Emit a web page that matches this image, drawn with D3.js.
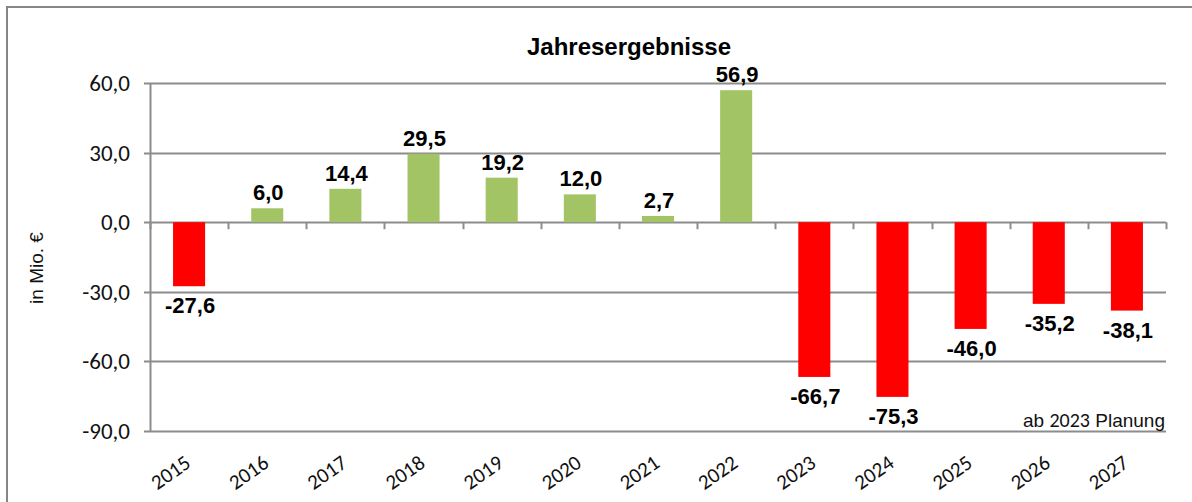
<!DOCTYPE html>
<html>
<head>
<meta charset="utf-8">
<script src="https://cdn.jsdelivr.net/npm/d3@7"></script>
<style>
  body { margin: 0; background: #fff; }
  svg { display: block; }
</style>
</head>
<body>
<svg id="chart" width="1192" height="502"></svg>
<script>
const years = ['2015', '2016', '2017', '2018', '2019', '2020', '2021', '2022', '2023', '2024', '2025', '2026', '2027'];
const results = [-27.6, 6.0, 14.4, 29.5, 19.2, 12.0, 2.7, 56.9, -66.7, -75.3, -46.0, -35.2, -38.1];
const yTicks = [60, 30, 0, -30, -60, -90];

const data = years.map((y, i) => ({ year: y, value: results[i] }));
const fmt = v => d3.format('.1f')(v).replace('.', ',').replace('\u2212', '-');

const calibri = 'Carlito, Calibri, "Open Sans", sans-serif';
const arial = 'Arial, "Liberation Sans", sans-serif';

const svg = d3.select('#chart');

// outer frame
svg.append('path')
  .attr('d', 'M7,502 V7 H1192')
  .attr('fill', 'none')
  .attr('stroke', '#868686')
  .attr('stroke-width', 2);

const x = d3.scaleBand()
  .domain(years)
  .range([150, 1166])
  .paddingInner(0.59)
  .paddingOuter(0.295);

const y = d3.scaleLinear().domain([-90, 60]).range([431, 83]);

// gridlines
svg.append('g')
  .selectAll('line')
  .data(yTicks)
  .enter()
  .append('line')
  .attr('x1', 144)
  .attr('x2', 1166)
  .attr('y1', d => Math.round(y(d)) + 0.5)
  .attr('y2', d => Math.round(y(d)) + 0.5)
  .attr('stroke', '#8c8c8c')
  .attr('stroke-width', 2);

// y axis line
svg.append('line')
  .attr('x1', 150.5).attr('x2', 150.5)
  .attr('y1', y(60)).attr('y2', y(-90) + 1)
  .attr('stroke', '#8c8c8c')
  .attr('stroke-width', 2);

// category tick marks on zero line
svg.append('g')
  .selectAll('line')
  .data(years.concat(['end']))
  .enter()
  .append('line')
  .attr('x1', (d, i) => Math.round(150 + i * x.step()) + 0.5)
  .attr('x2', (d, i) => Math.round(150 + i * x.step()) + 0.5)
  .attr('y1', y(0))
  .attr('y2', y(0) + 7)
  .attr('stroke', '#8c8c8c')
  .attr('stroke-width', 2);

// y tick labels
svg.append('g')
  .selectAll('text')
  .data(yTicks)
  .enter()
  .append('text')
  .attr('x', 130)
  .attr('y', d => y(d) + 8)
  .attr('text-anchor', 'end')
  .style('font-family', calibri)
  .style('font-size', '23px')
  .attr('fill', '#111')
  .text(fmt);

// bars
svg.append('g')
  .selectAll('rect')
  .data(data)
  .enter()
  .append('rect')
  .attr('x', d => x(d.year))
  .attr('width', x.bandwidth())
  .attr('y', d => y(Math.max(0, d.value)))
  .attr('height', d => Math.abs(y(d.value) - y(0)))
  .attr('fill', d => d.value >= 0 ? '#a3c464' : '#ff0000');

// value labels
svg.append('g')
  .selectAll('text')
  .data(data)
  .enter()
  .append('text')
  .attr('x', d => x(d.year) + x.bandwidth() / 2 + 1)
  .attr('y', d => d.value >= 0 ? y(d.value) - 8 : y(d.value) + 27)
  .attr('text-anchor', 'middle')
  .style('font-family', arial)
  .style('font-weight', 'bold')
  .style('font-size', '22px')
  .attr('fill', '#000')
  .text(d => fmt(d.value));

// x labels
svg.append('g')
  .selectAll('text')
  .data(years)
  .enter()
  .append('text')
  .attr('transform', d => `translate(${x(d) + x.bandwidth() / 2 + 3},${466}) rotate(-35)`)
  .attr('text-anchor', 'end')
  .style('font-family', calibri)
  .style('font-size', '21px')
  .attr('fill', '#111')
  .text(d => d);

// title
svg.append('text')
  .attr('x', 629)
  .attr('y', 55)
  .attr('text-anchor', 'middle')
  .style('font-family', arial)
  .style('font-weight', 'bold')
  .style('font-size', '24px')
  .text('Jahresergebnisse');

// axis title
svg.append('text')
  .attr('transform', 'translate(43,268) rotate(-90)')
  .attr('text-anchor', 'middle')
  .style('font-family', arial)
  .style('font-size', '19px')
  .attr('fill', '#111')
  .text('in Mio. €');

// note
const note = svg.append('text')
  .attr('x', 1165)
  .attr('y', 427)
  .attr('text-anchor', 'end')
  .style('font-family', arial)
  .style('font-size', '19px')
  .attr('fill', '#111');
note.append('tspan').text('ab ');
note.append('tspan').style('font-family', calibri).style('font-size', '20px').text('2023');
note.append('tspan').text(' Planung');
</script>
</body>
</html>
